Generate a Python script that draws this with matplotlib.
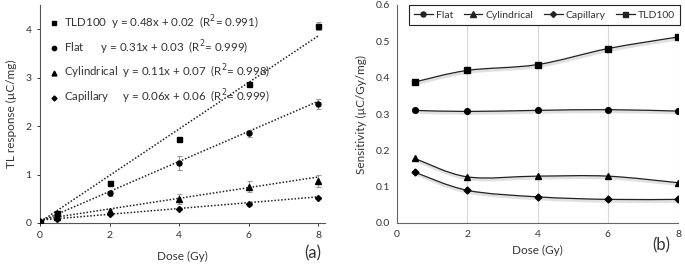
import numpy as np
import matplotlib
matplotlib.use("Agg")
import matplotlib.pyplot as plt
from matplotlib.path import Path
from matplotlib.patches import PathPatch
from matplotlib.lines import Line2D
import matplotlib.patheffects as pe

plt.rcParams['font.family'] = ['Lato', 'DejaVu Sans']

# ---- panel (a): TL response vs dose
dose_a = [0, 0.5, 2, 4, 6, 8]
tld = [0.02, 0.20, 0.83, 1.73, 2.87, 4.07]
tld_err = [0.01, 0.02, 0.03, 0.03, 0.05, 0.08]
flat = [0.03, 0.16, 0.61, 1.24, 1.85, 2.46]
flat_err = [0.01, 0.02, 0.06, 0.15, 0.08, 0.10]
cyl = [0.05, 0.12, 0.24, 0.50, 0.75, 0.87]
cyl_err = [0.01, 0.03, 0.05, 0.10, 0.12, 0.12]
cap = [0.03, 0.09, 0.18, 0.29, 0.39, 0.51]
cap_err = [0.01, 0.02, 0.02, 0.02, 0.03, 0.02]

names = ['TLD100', 'Flat', 'Cylindrical', 'Capillary']
slopes = [0.48, 0.31, 0.11, 0.06]
intercepts = [0.02, 0.03, 0.07, 0.06]
r2 = [0.991, 0.999, 0.998, 0.999]

# ---- panel (b): sensitivity vs dose
dose_b = [0.5, 2, 4, 6, 8]
s_flat = [0.310, 0.307, 0.310, 0.312, 0.308]
s_cyl = [0.178, 0.127, 0.129, 0.129, 0.111]
s_cap = [0.140, 0.090, 0.072, 0.065, 0.065]
s_tld = [0.388, 0.420, 0.436, 0.480, 0.512]

markers = {'TLD100': 's', 'Flat': 'o', 'Cylindrical': '^', 'Capillary': 'D'}
msize = {'TLD100': 3.6, 'Flat': 3.6, 'Cylindrical': 4.0, 'Capillary': 3.0}
txt = '#333333'


def smooth_path(x, y):
    # Catmull-Rom style curve through the points, drawn as Bezier segments
    x = np.asarray(x, float)
    y = np.asarray(y, float)
    pts = np.column_stack([x, y])
    verts = [pts[0]]
    codes = [Path.MOVETO]
    n = len(pts)
    for i in range(n - 1):
        p0 = pts[max(i - 1, 0)]
        p1 = pts[i]
        p2 = pts[i + 1]
        p3 = pts[min(i + 2, n - 1)]
        c1 = p1 + (p2 - p0) / 6.0
        c2 = p2 - (p3 - p1) / 6.0
        verts += [c1, c2, p2]
        codes += [Path.CURVE4] * 3
    return Path(verts, codes)


fig = plt.figure(figsize=(6.85, 2.65), dpi=100)
ax1 = fig.add_axes([40 / 685, 42 / 265, 285 / 685, 218 / 265])
ax2 = fig.add_axes([397 / 685, 42 / 265, 281 / 685, 218 / 265])

# panel a
series = [tld, flat, cyl, cap]
errs = [tld_err, flat_err, cyl_err, cap_err]
xf = np.array([0, 8])
handles = []
labels = []
for nm, ys, es, m, b, r in zip(names, series, errs, slopes, intercepts, r2):
    ax1.errorbar(dose_a, ys, yerr=es, fmt=markers[nm], ms=msize[nm], color='black',
                 ecolor='#999999', elinewidth=0.8, capsize=1.8, capthick=0.8, zorder=3)
    ax1.plot(xf, m * xf + b, ls=(0, (1, 1.2)), color='#222222', lw=1.1, zorder=2)
    handles.append(Line2D([], [], ls='none', marker=markers[nm], ms=msize[nm] - 0.5, color='black'))
    pad = {'TLD100': '  ', 'Flat': '      ', 'Cylindrical': '  ', 'Capillary': '     '}[nm]
    labels.append(f"{nm}{pad}y = {m:.2f}x + {b:.2f}  (R$^2$= {r:.3f})")

ax1.legend(handles, labels, loc='upper left', bbox_to_anchor=(0.005, 0.995), frameon=False,
           fontsize=8.3, handletextpad=0.4, handlelength=1.0, labelspacing=0.55,
           borderaxespad=0.2, labelcolor=txt)
ax1.set_xlim(0, 8.2)
ax1.set_ylim(0, 4.5)
ax1.set_xticks([0, 2, 4, 6, 8])
ax1.set_yticks([0, 1, 2, 3, 4])
for s in ['top', 'right']:
    ax1.spines[s].set_visible(False)
for s in ['left', 'bottom']:
    ax1.spines[s].set_color('#555555')
ax1.tick_params(labelsize=7.5, colors=txt, length=2.5, width=0.7)
ax1.set_xlabel('Dose (Gy)', fontsize=8.5, color=txt, labelpad=8)
ax1.set_ylabel('TL response (µC/mg)', fontsize=8.5, color=txt, labelpad=6)
fig.text(313 / 685, 1 - 253 / 265, '(a)', fontsize=12, color=txt, ha='center', va='center')

# panel b
sens = [s_flat, s_cyl, s_cap, s_tld]
sens_names = ['Flat', 'Cylindrical', 'Capillary', 'TLD100']
shadow = [pe.SimpleLineShadow(offset=(0.5, -1.2), shadow_color='#999999', alpha=0.3, linewidth=2.5),
          pe.Normal()]
hb = []
for nm, ys in zip(sens_names, sens):
    patch = PathPatch(smooth_path(dose_b, ys), fill=False, edgecolor='#222222', lw=0.9,
                      zorder=2, path_effects=shadow)
    ax2.add_patch(patch)
    ax2.plot(dose_b, ys, ls='none', marker=markers[nm], ms=msize[nm] + 0.5, color='black', zorder=3)
    hb.append(Line2D([], [], color='#222222', lw=0.9, marker=markers[nm], ms=msize[nm]))

leg = ax2.legend(hb, sens_names, loc='upper center', bbox_to_anchor=(0.525, 1.0), ncol=4,
                 fontsize=7.5, handlelength=1.8, handletextpad=0.3, columnspacing=1.0,
                 fancybox=False, framealpha=1, edgecolor='#222222', borderaxespad=0.0,
                 labelcolor=txt, borderpad=0.5)
leg.get_frame().set_linewidth(0.8)
ax2.set_xlim(0, 8)
ax2.set_ylim(0, 0.6)
ax2.set_xticks([0, 2, 4, 6, 8])
ax2.set_yticks(np.arange(0, 0.61, 0.1))
ax2.yaxis.set_major_formatter(matplotlib.ticker.FormatStrFormatter('%.1f'))
ax2.grid(axis='x', color='#d9d9d9', lw=0.8)
ax2.set_axisbelow(True)
for s in ['top', 'right']:
    ax2.spines[s].set_visible(False)
for s in ['left', 'bottom']:
    ax2.spines[s].set_color('#666666')
ax2.tick_params(labelsize=7.5, colors=txt, length=0, pad=5)
ax2.set_xlabel('Dose (Gy)', fontsize=8.5, color=txt, labelpad=4)
ax2.set_ylabel('Sensitivity (µC/Gy/mg)', fontsize=8.5, color=txt, labelpad=6)
fig.text(661 / 685, 1 - 245 / 265, '(b)', fontsize=12, color=txt, ha='center', va='center')

fig.savefig('out.png', dpi=100)
